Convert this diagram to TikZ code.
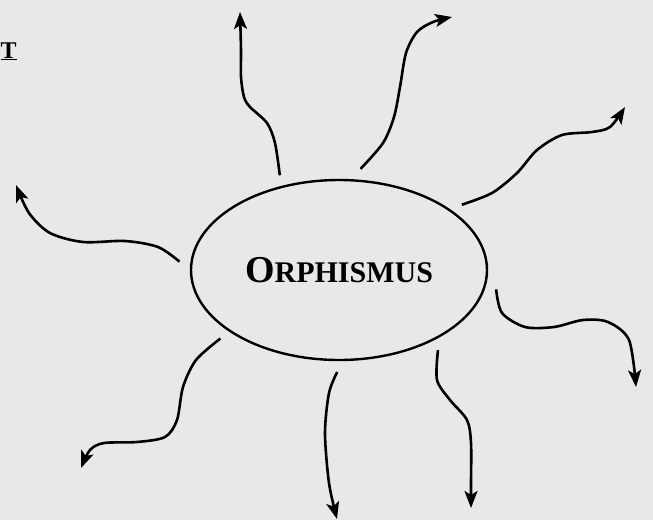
\documentclass[tikz,border=0pt]{standalone}
\usepackage{fontspec}
\setmainfont{Liberation Serif}
\usetikzlibrary{arrows.meta, shapes.geometric}
\definecolor{pagegray}{RGB}{232,232,232}

\begin{document}
\begin{tikzpicture}[x=1pt, y=-1pt, >={Stealth[length=17pt,width=13pt,inset=4pt]},
  ray/.style={->, line width=2.6pt},
  hubnode/.style={ellipse, draw, line width=2.4pt, minimum width=296pt,
    minimum height=180pt, inner sep=0pt, outer sep=12pt}]
  % rays around the central word
  \fill[pagegray] (0,0) rectangle (653,520);
  \useasboundingbox (0,0) rectangle (653,520);
  \node[anchor=base west, inner sep=0pt] (corner) at (0.5,58)
    {\fontsize{24}{26}\selectfont\bfseries\underline{T}};
  \node[hubnode] (hub) at (339,270)
    {\bfseries\fontsize{38}{40}\selectfont O\fontsize{30}{32}\selectfont RPHISMUS};
  \coordinate (tipA) at (240,12);
  \coordinate (tipB) at (452,17);
  \coordinate (tipC) at (625,107);
  \coordinate (tipD) at (16,185);
  \coordinate (tipE) at (636,387);
  \coordinate (tipF) at (81,468);
  \coordinate (tipG) at (337,519);
  \coordinate (tipH) at (471,508);
  \draw[ray] plot[smooth] coordinates
    {(hub.122) (275,143) (267,123) (250,107) (244,97) (241,77) (241,50) (tipA)};
  \draw[ray] plot[smooth] coordinates
    {(hub.78) (383,143) (394,117) (400,87) (406,53) (417,32) (433,22) (tipB)};
  \draw[ray] plot[smooth] coordinates
    {(hub.28) (492,193) (517,173) (537,150) (562,135) (592,132) (610,127) (tipC)};
  \draw[ray] plot[smooth] coordinates
    {(hub.177) (158,247) (125,241) (83,242) (50,233) (29,213) (tipD)};
  \draw[ray] plot[smooth] coordinates
    {(hub.-7) (502,313) (525,327) (554,327) (583,320) (608,322) (629,340) (tipE)};
  \draw[ray] plot[smooth] coordinates
    {(hub.210) (196,360) (183,387) (177,420) (165,437) (137,442) (104,443) (90,450) (tipF)};
  \draw[ray] plot[smooth] coordinates
    {(hub.-91) (329,393) (325,433) (329,483) (tipG)};
  \draw[ray] plot[smooth] coordinates
    {(hub.-39) (437,380) (450,400) (467,420) (471,443) (471,483) (tipH)};
\end{tikzpicture}
\end{document}
